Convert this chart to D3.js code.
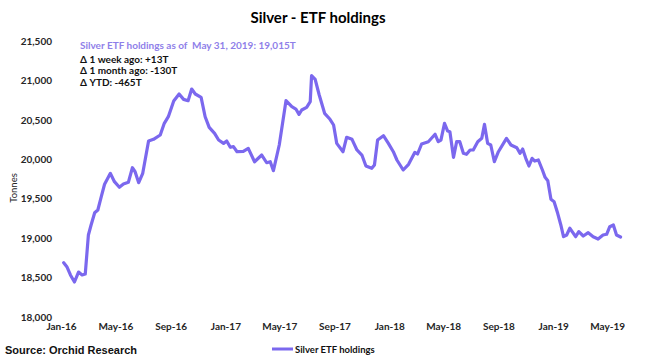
<!DOCTYPE html>
<html>
<head>
<meta charset="utf-8">
<script src="https://cdn.jsdelivr.net/npm/d3@7"></script>
<style>
  body { margin: 0; background: #fff; }
  svg { display: block; }
  text { font-family: Lato, "Liberation Sans", sans-serif; }
</style>
</head>
<body>
<svg id="chart" width="645" height="359"></svg>
<script>
// weekly readings, tonnes
const dates = [
  "2016-01-07","2016-01-14","2016-01-22","2016-01-31","2016-02-09","2016-02-17","2016-02-24",
  "2016-03-02","2016-03-08","2016-03-16","2016-03-23","2016-03-31","2016-04-07","2016-04-20",
  "2016-04-29","2016-05-10","2016-05-19","2016-05-30","2016-06-08","2016-06-14","2016-06-22",
  "2016-07-01","2016-07-14","2016-07-25","2016-08-09","2016-08-18","2016-08-27","2016-09-08",
  "2016-09-20","2016-09-30","2016-10-10","2016-10-18","2016-10-26","2016-11-08","2016-11-17",
  "2016-11-26","2016-12-08","2016-12-17","2016-12-28",
  "2017-01-04","2017-01-12","2017-01-19","2017-01-27","2017-02-10","2017-02-21","2017-03-07",
  "2017-03-23","2017-04-03","2017-04-11","2017-04-18","2017-05-01","2017-05-16","2017-05-29",
  "2017-06-07","2017-06-14","2017-06-20","2017-07-01","2017-07-09","2017-07-12","2017-07-20",
  "2017-07-29","2017-08-10","2017-08-22","2017-08-30","2017-09-06","2017-09-20","2017-09-28",
  "2017-10-10","2017-10-21","2017-11-01","2017-11-10","2017-11-23","2017-11-29","2017-12-06",
  "2017-12-19","2017-12-30",
  "2018-01-10","2018-01-18","2018-02-01","2018-02-13","2018-02-27","2018-03-05","2018-03-14",
  "2018-03-29","2018-04-13","2018-04-20","2018-04-26","2018-05-04","2018-05-11","2018-05-16",
  "2018-05-24","2018-05-31","2018-06-07","2018-06-15","2018-06-22","2018-06-30","2018-07-07",
  "2018-07-17","2018-07-26","2018-08-01","2018-08-08","2018-08-15","2018-08-23","2018-09-01",
  "2018-09-19","2018-09-29","2018-10-12","2018-10-19","2018-10-25","2018-11-01","2018-11-08",
  "2018-11-15","2018-11-21","2018-11-29","2018-12-08","2018-12-14","2018-12-20","2018-12-27",
  "2019-01-03","2019-01-11","2019-01-18","2019-01-24","2019-01-31","2019-02-07","2019-02-15",
  "2019-02-20","2019-02-27","2019-03-09","2019-03-20","2019-03-31","2019-04-11","2019-04-22",
  "2019-04-30","2019-05-07","2019-05-15","2019-05-22","2019-05-31"
];

const holdings = [
  18689, 18638, 18533, 18444, 18570, 18533, 18545,
  19040, 19167, 19322, 19357, 19534, 19683, 19822,
  19716, 19645, 19686, 19708, 19893, 19842, 19703,
  19822, 20232, 20253, 20308, 20456, 20540, 20739,
  20828, 20760, 20743, 20891, 20828, 20786, 20540,
  20405, 20329, 20244, 20202,
  20232, 20152, 20160, 20096, 20101, 20139, 19969,
  20054, 19956, 19969, 19855, 20181, 20743, 20667,
  20637, 20570, 20625, 20659, 20730, 21060, 21014,
  20815, 20583, 20507, 20435, 20202, 20096, 20279,
  20253, 20118, 20054, 19915, 19885, 19927, 20244,
  20299, 20202,
  20096, 19991, 19864, 19936, 20088, 20067, 20194,
  20223, 20317, 20223, 20244, 20456, 20358, 20350,
  20025, 20223, 20223, 20076, 20063, 20118, 20118,
  20223, 20266, 20443, 20202, 20181, 19969, 20096,
  20266, 20181, 20147, 20076, 20130, 20012, 19915,
  20012, 19978, 19991, 19864, 19771, 19728, 19492,
  19462, 19315, 19167, 19018, 19040, 19125, 19061,
  19018, 19082, 19027, 19069, 19018, 18989, 19040,
  19049, 19145, 19167, 19040, 19015
];

const yTicks = [18000, 18500, 19000, 19500, 20000, 20500, 21000, 21500];
const xTicks = ["2016-01-01","2016-05-01","2016-09-01","2017-01-01","2017-05-01","2017-09-01",
  "2018-01-01","2018-05-01","2018-09-01","2019-01-01","2019-05-01"];

const notes = [
  "Silver ETF holdings as of  May 31, 2019: 19,015T",
  "\u0394 1 week ago: +13T",
  "\u0394 1 month ago: -130T",
  "\u0394 YTD: -465T"
];

const lineColor = "#7b68ee";
const parse = d3.timeParse("%Y-%m-%d");
const data = dates.map((d, i) => ({ date: parse(d), value: holdings[i] }));

const svg = d3.select("#chart");

const x = d3
  .scaleTime()
  .domain([parse("2016-01-01"), parse("2019-06-01")])
  .range([61, 621]);
const y = d3.scaleLinear().domain([18000, 21500]).range([317, 41]);

//--TITLE
svg
  .append("text")
  .attr("x", 318)
  .attr("y", 23)
  .attr("text-anchor", "middle")
  .attr("font-size", "15px")
  .attr("font-weight", "bold")
  .attr("fill", "#000")
  .text("Silver - ETF holdings");

//--Y AXIS
const yAxis = svg
  .append("g")
  .attr("transform", "translate(61,0)")
  .call(
    d3
      .axisLeft(y)
      .tickValues(yTicks)
      .tickSize(0)
      .tickPadding(9)
      .tickFormat(d3.format(","))
  );
yAxis.select(".domain").remove();
yAxis
  .selectAll("text")
  .attr("font-size", "10px")
  .attr("font-weight", "bold")
  .attr("fill", "#262626")
  .style("font-family", "Lato, sans-serif");

svg
  .append("text")
  .attr("transform", "translate(17,188) rotate(-90)")
  .attr("text-anchor", "middle")
  .attr("font-size", "9.5px")
  .attr("fill", "#262626")
  .text("Tonnes");

//--X AXIS
const xAxis = svg
  .append("g")
  .attr("transform", "translate(0,319)")
  .call(
    d3
      .axisBottom(x)
      .tickValues(xTicks.map(parse))
      .tickSize(0)
      .tickPadding(4)
      .tickFormat(d3.timeFormat("%b-%y"))
  );
xAxis.select(".domain").remove();
xAxis
  .selectAll("text")
  .attr("font-size", "10px")
  .attr("font-weight", "bold")
  .attr("fill", "#262626")
  .style("font-family", "Lato, sans-serif");

//--LINE
const line = d3
  .line()
  .x((d) => x(d.date))
  .y((d) => y(d.value));

svg
  .append("path")
  .datum(data)
  .attr("d", line)
  .attr("fill", "none")
  .attr("stroke", lineColor)
  .attr("stroke-width", 3.2)
  .attr("stroke-linejoin", "round")
  .attr("stroke-linecap", "round");

//--NOTES
svg
  .append("g")
  .selectAll("text")
  .data(notes)
  .enter()
  .append("text")
  .attr("x", 80)
  .attr("y", (_, i) => [49, 62.5, 74, 85.5][i])
  .attr("font-size", "10px")
  .attr("font-weight", "bold")
  .attr("fill", (_, i) => (i == 0 ? "#8f7fe9" : "#111"))
  .style("white-space", "pre")
  .text((d) => d);

//--SOURCE + LEGEND
svg
  .append("text")
  .attr("x", 5)
  .attr("y", 354)
  .attr("font-size", "11px")
  .attr("font-weight", "bold")
  .attr("fill", "#111")
  .style("font-family", "'Liberation Sans', Arial, sans-serif")
  .text("Source: Orchid Research");

const legend = svg.append("g").attr("transform", "translate(272,349)");
legend
  .append("line")
  .attr("x1", 0)
  .attr("x2", 21)
  .attr("stroke", lineColor)
  .attr("stroke-width", 3);
legend
  .append("text")
  .attr("x", 23)
  .attr("y", 3.5)
  .attr("font-size", "9.5px")
  .attr("font-weight", "bold")
  .attr("fill", "#111")
  .text("Silver ETF holdings");
</script>
</body>
</html>
